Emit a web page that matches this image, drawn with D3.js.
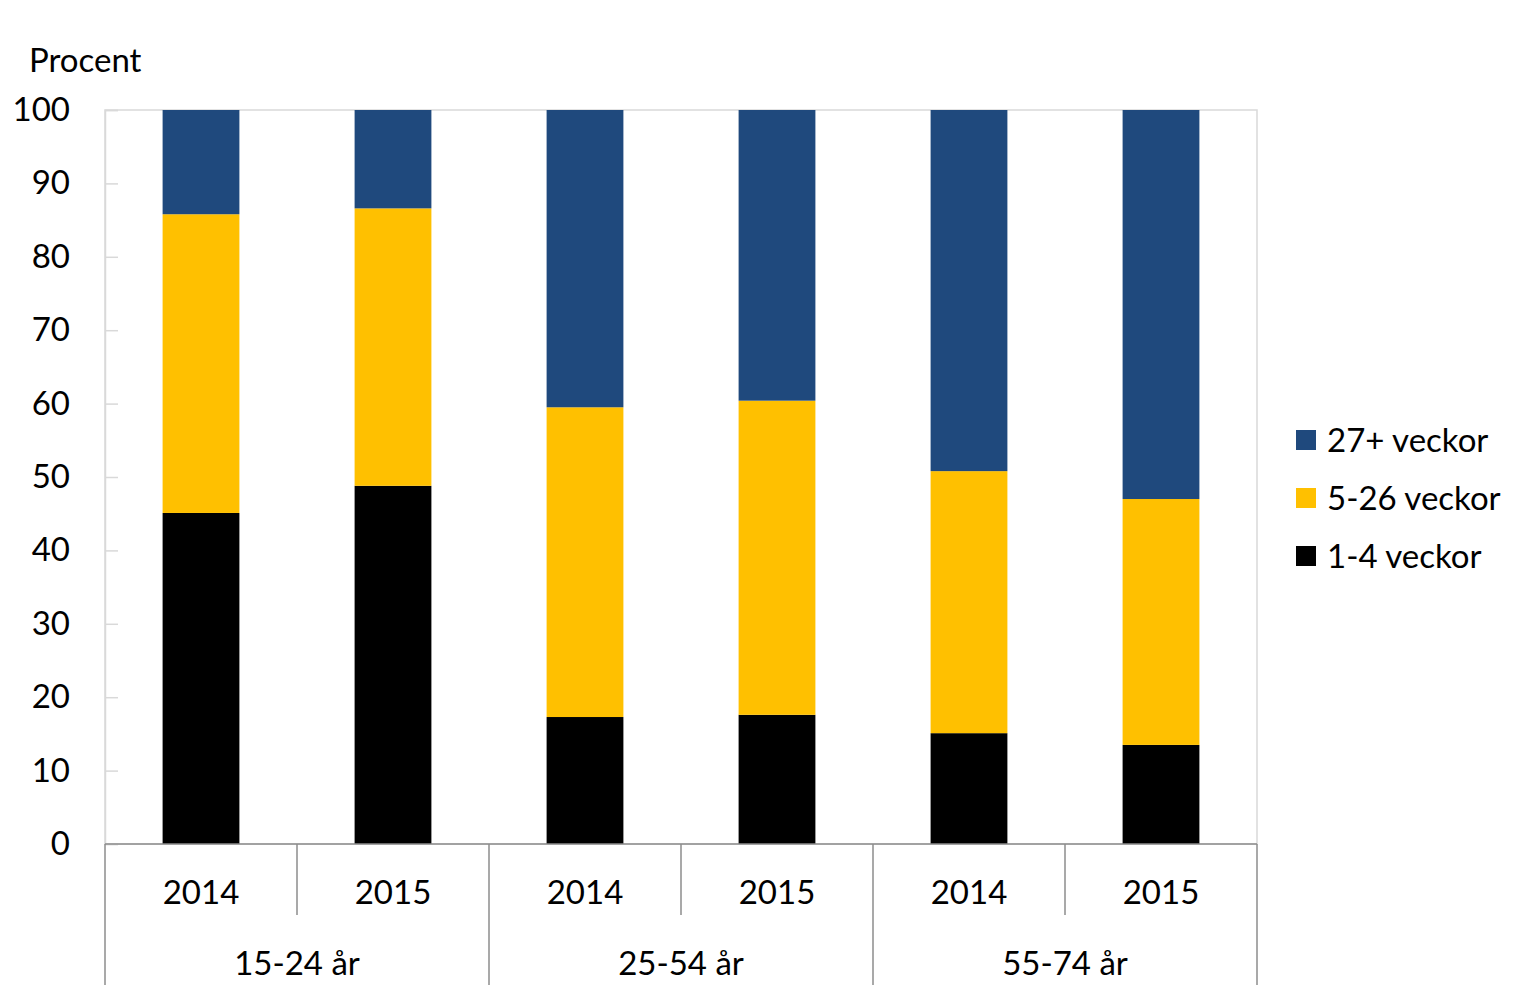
<!DOCTYPE html>
<html>
<head>
<meta charset="utf-8">
<script src="https://cdn.jsdelivr.net/npm/d3@7"></script>
<style>
  body { margin: 0; background: #fff; }
  text { font-family: Lato, "Open Sans", sans-serif; fill: #000; }
</style>
</head>
<body>
<div id="chart"></div>
<script>
// data
var groups = ["15-24 år", "25-54 år", "55-74 år"];
var years = ["2014", "2015"];
var series = ["1-4 veckor", "5-26 veckor", "27+ veckor"];
var short = [45.1, 48.8, 17.3, 17.6, 15.1, 13.5];
var mid = [40.7, 37.8, 42.2, 42.8, 35.7, 33.5];
var long = [14.2, 13.4, 40.5, 39.6, 49.2, 53.0];
var yTicks = [0, 10, 20, 30, 40, 50, 60, 70, 80, 90, 100];
var colors = ["#000000", "#ffc000", "#1f497d"];

var svgWidth = 1525, svgHeight = 997;
var margin = { top: 110, right: 268, bottom: 153, left: 105 };
var chartWidth = svgWidth - margin.left - margin.right;
var chartHeight = svgHeight - margin.top - margin.bottom;
var fontSize = "33px";

var svg = d3.select("#chart").append("svg")
    .attr("width", svgWidth)
    .attr("height", svgHeight);

var chartGroup = svg.append("g")
    .attr("transform", `translate(${margin.left}, ${margin.top})`);

// build rows for stacking
var rows = [];
groups.forEach(function(g, gi) {
  years.forEach(function(y, yi) {
    var i = gi * years.length + yi;
    var r = { key: g + "|" + y, group: g, year: y };
    r[series[0]] = short[i];
    r[series[1]] = mid[i];
    r[series[2]] = long[i];
    rows.push(r);
  });
});

var xScale = d3.scaleBand()
    .domain(rows.map(d => d.key))
    .range([0, chartWidth])
    .paddingInner(0.6)
    .paddingOuter(0.3);

var yScale = d3.scaleLinear()
    .domain([0, 100])
    .range([chartHeight, 0]);

// plot border
chartGroup.append("rect")
    .attr("x", 0).attr("y", 0)
    .attr("width", chartWidth).attr("height", chartHeight)
    .attr("fill", "none")
    .attr("stroke", "#d9d9d9")
    .attr("stroke-width", 1.5);

// stacked bars
var stacked = d3.stack().keys(series)(rows);
chartGroup.selectAll(".layer")
    .data(stacked)
    .enter()
    .append("g")
    .attr("fill", (d, i) => colors[i])
    .selectAll("rect")
    .data(d => d)
    .enter()
    .append("rect")
    .attr("x", d => xScale(d.data.key))
    .attr("width", xScale.bandwidth())
    .attr("y", d => yScale(Math.min(100, d[1])))
    .attr("height", d => yScale(d[0]) - yScale(Math.min(100, d[1])));

// y axis
var leftAxis = d3.axisLeft(yScale)
    .tickValues(yTicks)
    .tickSize(-13)
    .tickPadding(35);

var yAxis = chartGroup.append("g").call(leftAxis);
yAxis.select(".domain").attr("stroke", "#d9d9d9").attr("stroke-width", 1.5);
yAxis.selectAll(".tick line").attr("stroke", "#d9d9d9").attr("stroke-width", 1.5);
yAxis.selectAll(".tick text")
    .style("font-family", "Lato, sans-serif")
    .style("font-size", fontSize)
    .attr("fill", "#000");

// x axis: baseline and separators
var step = xScale.step();
var axisColor = "#8c8c8c";
chartGroup.append("line")
    .attr("x1", 0).attr("x2", chartWidth)
    .attr("y1", chartHeight).attr("y2", chartHeight)
    .attr("stroke", axisColor).attr("stroke-width", 1.5);

// short separators between years
var yearSep = [];
groups.forEach(function(g, gi) { yearSep.push((gi * 2 + 1) * step); });
chartGroup.selectAll(".ysep")
    .data(yearSep)
    .enter()
    .append("line")
    .attr("x1", d => d).attr("x2", d => d)
    .attr("y1", chartHeight).attr("y2", chartHeight + 71)
    .attr("stroke", axisColor).attr("stroke-width", 1.5);

// long separators between groups
var groupSep = d3.range(groups.length + 1).map(i => i * 2 * step);
chartGroup.selectAll(".gsep")
    .data(groupSep)
    .enter()
    .append("line")
    .attr("x1", d => d).attr("x2", d => d)
    .attr("y1", chartHeight).attr("y2", chartHeight + 141)
    .attr("stroke", axisColor).attr("stroke-width", 1.5);

// year labels
chartGroup.selectAll(".ylab")
    .data(rows)
    .enter()
    .append("text")
    .attr("x", d => xScale(d.key) + xScale.bandwidth() / 2)
    .attr("y", chartHeight + 60)
    .attr("text-anchor", "middle")
    .style("font-size", fontSize)
    .text(d => d.year);

// group labels
chartGroup.selectAll(".glab")
    .data(groups)
    .enter()
    .append("text")
    .attr("x", (d, i) => (i * 2 + 1) * step)
    .attr("y", chartHeight + 131)
    .attr("text-anchor", "middle")
    .style("font-size", fontSize)
    .text(d => d);

// axis title
svg.append("text")
    .attr("x", 29)
    .attr("y", 72)
    .style("font-size", fontSize)
    .text("Procent");

// legend (reverse order)
var legend = svg.append("g")
    .attr("transform", "translate(1296, 440)");
var legendItems = legend.selectAll("g")
    .data(series.slice().reverse())
    .enter()
    .append("g")
    .attr("transform", (d, i) => `translate(0, ${i * 58})`);
legendItems.append("rect")
    .attr("x", 0).attr("y", -10)
    .attr("width", 20).attr("height", 20)
    .attr("fill", d => colors[series.indexOf(d)]);
legendItems.append("text")
    .attr("x", 31)
    .attr("y", 12)
    .style("font-size", fontSize)
    .text(d => d);
</script>
</body>
</html>
